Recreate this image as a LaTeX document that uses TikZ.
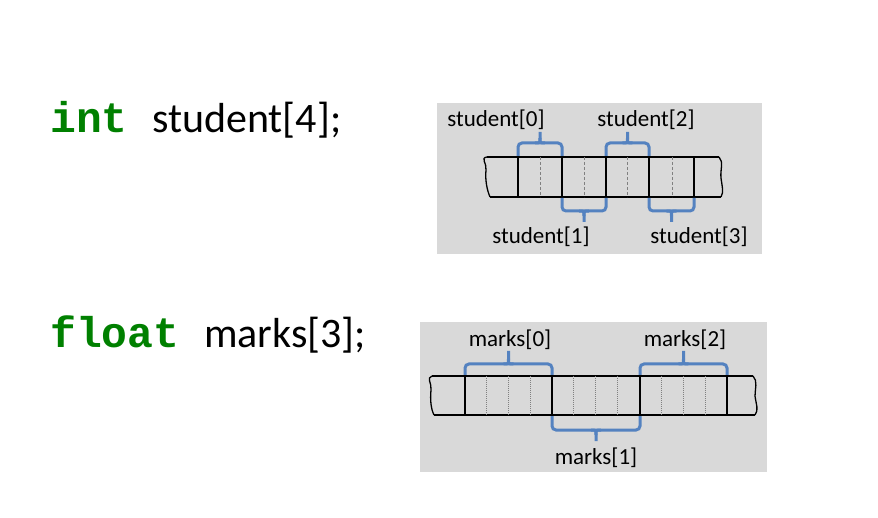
\documentclass[tikz,border=0pt]{standalone}
\usepackage{fontspec}
\setmainfont{Carlito}
\newfontfamily\codefont{Liberation Mono}
\definecolor{kwgreen}{RGB}{0,128,0}
\definecolor{panel}{RGB}{217,217,217}
\definecolor{bracecol}{RGB}{84,130,192}
\begin{document}
\begin{tikzpicture}[x=1pt,y=-1pt,
  codetxt/.style={inner sep=0pt,anchor=base west,font=\fontsize{42}{46}\selectfont},
  kw/.style={codetxt,font=\fontsize{43}{46}\selectfont\codefont\bfseries,text=kwgreen},
  lbl/.style={inner sep=0pt,font=\fontsize{23}{26}\selectfont},
  panelbox/.style={fill=panel,draw=none},
  tape/.style={draw=black,line width=1.3pt},
  cellwall/.style={draw=black,line width=2.8pt},
  dashwall/.style={draw=gray,line width=0.8pt,dashed,dash pattern=on 3pt off 2pt},
  dotwall/.style={draw=gray,line width=0.6pt,dash pattern=on 1pt off 1pt},
  bline/.style={draw=bracecol,line width=3pt},
  brace/.style={bline,rounded corners=4pt}]
\useasboundingbox (0,0) rectangle (878,518);
% code text
\node[kw] (kint) at (50,133) {int};
\node[codetxt] (dstudent) at (152,133) {student[4];};
\node[kw] (kfloat) at (50,348) {float};
\node[codetxt] (dmarks) at (204,348) {marks[3];};
% panels
\fill[panelbox] (437,103) rectangle (762,254);
\fill[panelbox] (420,322) rectangle (767,472);
% ---- int array ----
\draw[tape] (487,157) -- (719,157);
\draw[tape] (490,197) -- (721,197);
\draw[tape] (487,157) .. controls (480,158) and (487,163) .. (486,170)
  .. controls (485,180) and (487,190) .. (490,197);
\draw[tape] (719,157) .. controls (724,162) and (720,170) .. (721,178)
  .. controls (722,186) and (724,192) .. (721,197);
\foreach \x in {540,584,627,672} \draw[dashwall] (\x,157) -- (\x,197);
\foreach \x in {518,562,606,649,694} \draw[cellwall] (\x,157) -- (\x,197);
% top braces
\foreach \a/\b in {518/562,606/649} {
  \pgfmathsetmacro\m{(\a+\b)/2}
  \draw[brace] (\a,156) -- (\a,143) -- (\b,143) -- (\b,156);
  \draw[bline] (\m-5,143) .. controls (\m,143) .. (\m,138) -- (\m,132);
  \draw[bline] (\m+5,143) .. controls (\m,143) .. (\m,138);
}
% bottom braces
\foreach \a/\b in {562/606,649/694} {
  \pgfmathsetmacro\m{(\a+\b)/2}
  \draw[brace] (\a,198) -- (\a,211) -- (\b,211) -- (\b,198);
  \draw[bline] (\m-5,211) .. controls (\m,211) .. (\m,216) -- (\m,222);
  \draw[bline] (\m+5,211) .. controls (\m,211) .. (\m,216);
}
\node[lbl] (s0) at (496,120) {student[0]};
\node[lbl] (s2) at (646,120) {student[2]};
\node[lbl] (s1) at (541,237) {student[1]};
\node[lbl] (s3) at (699,237) {student[3]};
% ---- float array ----
\draw[tape] (432,376) -- (753,376);
\draw[tape] (434,415) -- (755,415);
\draw[tape] (432,376) .. controls (426,378) and (432,383) .. (431,390)
  .. controls (430,400) and (431,409) .. (434,415);
\draw[tape] (753,376) .. controls (758,381) and (755,389) .. (755,396)
  .. controls (756,404) and (759,410) .. (755,415);
\foreach \s in {465,552,640} {
  \foreach \k in {1,2,3} \draw[dotwall] ({\s+\k*(87/4)},376) -- ({\s+\k*(87/4)},415);
}
\foreach \x in {465,552,640,727} \draw[cellwall] (\x,376) -- (\x,415);
% top braces
\foreach \a/\b in {465/552,640/727} {
  \pgfmathsetmacro\m{(\a+\b)/2}
  \draw[brace] (\a,375) -- (\a,364) -- (\b,364) -- (\b,375);
  \draw[bline] (\m-5,364) .. controls (\m,364) .. (\m,359) -- (\m,351);
  \draw[bline] (\m+5,364) .. controls (\m,364) .. (\m,359);
}
% bottom brace
\draw[brace] (552,416) -- (552,430) -- (640,430) -- (640,416);
\draw[bline] (591,430) .. controls (596,430) .. (596,435) -- (596,441);
\draw[bline] (601,430) .. controls (596,430) .. (596,435);
\node[lbl] (m0) at (510,340) {marks[0]};
\node[lbl] (m2) at (685,340) {marks[2]};
\node[lbl] (m1) at (596,458) {marks[1]};
\end{tikzpicture}
\end{document}
